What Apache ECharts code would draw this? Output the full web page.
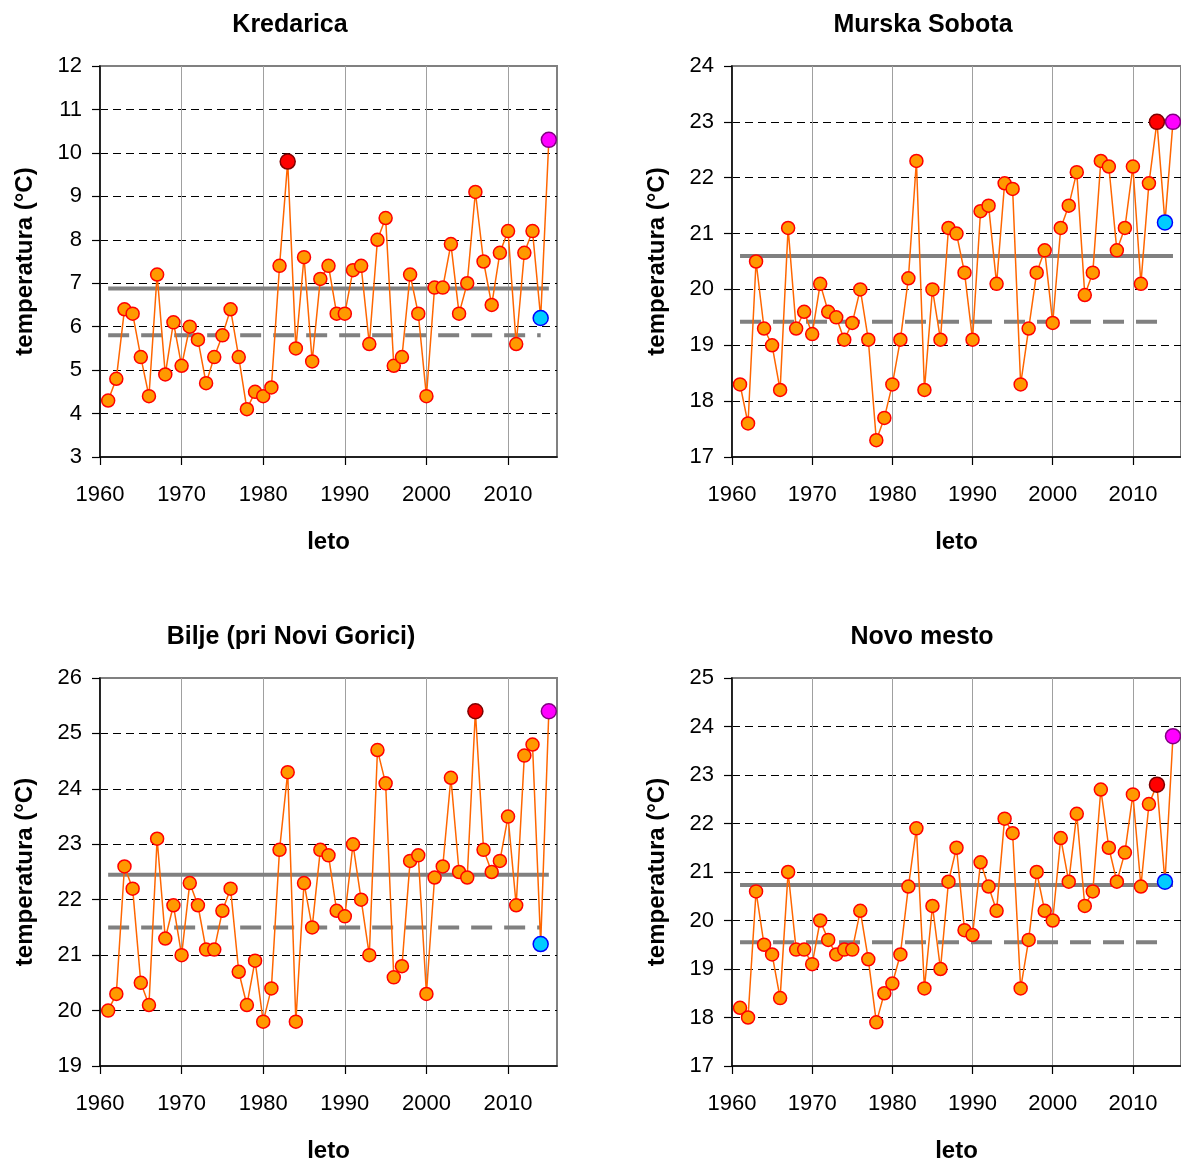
<!DOCTYPE html>
<html>
<head>
<meta charset="utf-8">
<script src="https://cdn.jsdelivr.net/npm/echarts@6/dist/echarts.min.js"></script>
<style>
html,body{margin:0;padding:0;background:#ffffff;}
#chart{width:1181px;height:1164px;}
</style>
</head>
<body>
<div id="chart"></div>
<script>
// ---------- data ----------
const years = [1961,1962,1963,1964,1965,1966,1967,1968,1969,1970,
               1971,1972,1973,1974,1975,1976,1977,1978,1979,1980,
               1981,1982,1983,1984,1985,1986,1987,1988,1989,1990,
               1991,1992,1993,1994,1995,1996,1997,1998,1999,2000,
               2001,2002,2003,2004,2005,2006,2007,2008,2009,2010,
               2011,2012,2013,2014,2015];

const stationNames = ['Kredarica', 'Murska Sobota', 'Bilje (pri Novi Gorici)', 'Novo mesto'];

const kredarica = [4.3,4.8,6.4,6.3,5.3,4.4,7.2,4.9,6.1,5.1,
                   6.0,5.7,4.7,5.3,5.8,6.4,5.3,4.1,4.5,4.4,
                   4.6,7.4,9.8,5.5,7.6,5.2,7.1,7.4,6.3,6.3,
                   7.3,7.4,5.6,8.0,8.5,5.1,5.3,7.2,6.3,4.4,
                   6.9,6.9,7.9,6.3,7.0,9.1,7.5,6.5,7.7,8.2,
                   5.6,7.7,8.2,6.2,10.3];

const murskaSobota = [18.3,17.6,20.5,19.3,19.0,18.2,21.1,19.3,19.6,19.2,
                      20.1,19.6,19.5,19.1,19.4,20.0,19.1,17.3,17.7,18.3,
                      19.1,20.2,22.3,18.2,20.0,19.1,21.1,21.0,20.3,19.1,
                      21.4,21.5,20.1,21.9,21.8,18.3,19.3,20.3,20.7,19.4,
                      21.1,21.5,22.1,19.9,20.3,22.3,22.2,20.7,21.1,22.2,
                      20.1,21.9,23.0,21.2,23.0];

const bilje = [20.0,20.3,22.6,22.2,20.5,20.1,23.1,21.3,21.9,21.0,
               22.3,21.9,21.1,21.1,21.8,22.2,20.7,20.1,20.9,19.8,
               20.4,22.9,24.3,19.8,22.3,21.5,22.9,22.8,21.8,21.7,
               23.0,22.0,21.0,24.7,24.1,20.6,20.8,22.7,22.8,20.3,
               22.4,22.6,24.2,22.5,22.4,25.4,22.9,22.5,22.7,23.5,
               21.9,24.6,24.8,21.2,25.4];

const novoMesto = [18.2,18.0,20.6,19.5,19.3,18.4,21.0,19.4,19.4,19.1,
                   20.0,19.6,19.3,19.4,19.4,20.2,19.2,17.9,18.5,18.7,
                   19.3,20.7,21.9,18.6,20.3,19.0,20.8,21.5,19.8,19.7,
                   21.2,20.7,20.2,22.1,21.8,18.6,19.6,21.0,20.2,20.0,
                   21.7,20.8,22.2,20.3,20.6,22.7,21.5,20.8,21.4,22.6,
                   20.7,22.4,22.8,20.8,23.8];

const recordYears = [1983, 2013, 2006, 2013];   // previous record (red marker)
const year2014 = 2014;                           // cyan marker
const year2015 = 2015;                           // magenta marker

const mean1981_2010 = [6.88, 20.6, 22.45, 20.73]; // solid grey line
const mean1961_1990 = [5.8, 19.42, 21.5, 19.55];  // dashed grey line

const yMin = [3, 17, 19, 17];
const yMax = [12, 24, 26, 25];
const xTickValues = [1960, 1970, 1980, 1990, 2000, 2010];

// ---------- layout / style ----------
const FONT = "'Liberation Sans', Arial, sans-serif";
const grids = [
  {left: 100, top: 66, width: 457, height: 391},
  {left: 732, top: 66, width: 458, height: 391},
  {left: 100, top: 678, width: 457, height: 393},
  {left: 732, top: 678, width: 458, height: 394}
];
const titlePos = [
  {left: 285, top: 8},
  {left: 918, top: 8},
  {left: 286, top: 620},
  {left: 917, top: 620}
];
const allValues = [kredarica, murskaSobota, bilje, novoMesto];

const titles = [], xAxes = [], yAxes = [], series = [];

allValues.forEach((vals, i) => {
  titles.push({
    text: stationNames[i],
    left: titlePos[i].left, top: titlePos[i].top,
    textAlign: 'center',
    textStyle: {fontFamily: FONT, fontSize: 25, fontWeight: 'bold', color: '#000'}
  });
  xAxes.push({
    type: 'value', gridIndex: i, min: 1960, max: 2016,
    name: 'leto', nameLocation: 'middle', nameGap: 73,
    nameTextStyle: {fontFamily: FONT, fontSize: 24, fontWeight: 'bold', color: '#000'},
    axisLine: {show: true, lineStyle: {color: '#000', width: 1.5}},
    axisTick: {show: true, length: 8, customValues: xTickValues, lineStyle: {color: '#000', width: 1.2}},
    axisLabel: {customValues: xTickValues, fontFamily: FONT, fontSize: 22, color: '#000', margin: 27,
                formatter: v => String(v)},
    splitLine: {show: true, lineStyle: {color: '#a0a0a0', width: 1}}
  });
  yAxes.push({
    type: 'value', gridIndex: i, min: yMin[i], max: yMax[i], interval: 1,
    name: 'temperatura (°C)', nameLocation: 'middle', nameGap: 63,
    nameTextStyle: {fontFamily: FONT, fontSize: 24, fontWeight: 'bold', color: '#000'},
    axisLine: {show: true, lineStyle: {color: '#000', width: 1.5}},
    axisTick: {show: true, length: 8, lineStyle: {color: '#000', width: 1.2}},
    axisLabel: {fontFamily: FONT, fontSize: 22, color: '#000', margin: 18},
    splitLine: {show: true, showMinLine: false, showMaxLine: false,
                lineStyle: {color: '#000', width: 1, type: [8, 5]}}
  });
  series.push({
    type: 'line', xAxisIndex: i, yAxisIndex: i, silent: true, z: 1,
    symbol: 'none', data: [[1961, mean1981_2010[i]], [2015, mean1981_2010[i]]],
    lineStyle: {color: '#808080', width: 4}
  });
  series.push({
    type: 'line', xAxisIndex: i, yAxisIndex: i, silent: true, z: 1,
    symbol: 'none', data: [[1961, mean1961_1990[i]], [2014, mean1961_1990[i]]],
    lineStyle: {color: '#808080', width: 4, type: [21, 12]}
  });
  const data = years.map((yr, k) => {
    const item = {value: [yr, vals[k]]};
    if (yr === recordYears[i]) {
      item.symbolSize = 15;
      item.itemStyle = {color: '#ff0000', borderColor: '#800000', borderWidth: 1.5};
    } else if (yr === year2014) {
      item.symbolSize = 15;
      item.itemStyle = {color: '#00ccff', borderColor: '#0000ff', borderWidth: 1.5};
    } else if (yr === year2015) {
      item.symbolSize = 15;
      item.itemStyle = {color: '#ff00ff', borderColor: '#800080', borderWidth: 1.5};
    }
    return item;
  });
  series.push({
    type: 'line', xAxisIndex: i, yAxisIndex: i, z: 3,
    data: data, symbol: 'circle', symbolSize: 13, showSymbol: true,
    lineStyle: {color: '#ff6600', width: 1.5},
    itemStyle: {color: '#ff9900', borderColor: '#ff0000', borderWidth: 1.5}
  });
});

const chart = echarts.init(document.getElementById('chart'), null, {renderer: 'canvas'});
chart.setOption({
  animation: false,
  backgroundColor: '#ffffff',
  title: titles,
  grid: grids.map(g => Object.assign({show: true, borderColor: '#808080', borderWidth: 2, backgroundColor: 'transparent'}, g)),
  xAxis: xAxes,
  yAxis: yAxes,
  series: series
});
</script>
</body>
</html>
